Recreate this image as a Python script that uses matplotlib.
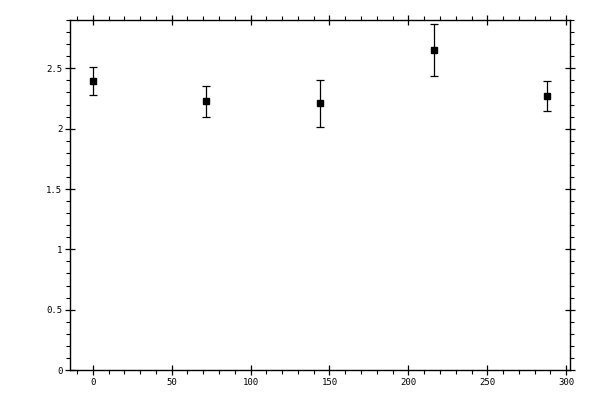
import matplotlib
matplotlib.use("Agg")
import matplotlib.pyplot as plt
from matplotlib.ticker import MultipleLocator, FuncFormatter

x_vals = [0, 72, 144, 216, 288]
y_vals = [2.394, 2.228, 2.211, 2.651, 2.269]
y_err = [0.114, 0.129, 0.195, 0.213, 0.124]

x_ticks = [0, 50, 100, 150, 200, 250, 300]
y_ticks = [0, 0.5, 1, 1.5, 2, 2.5]

fig = plt.figure(figsize=(6, 4), dpi=100)
ax = fig.add_axes([70/600, 30/400, 500/600, 350.5/400])

ax.errorbar(x_vals, y_vals, yerr=y_err, fmt='s', color='black', ms=4.8,
            capsize=3.2, elinewidth=0.9, capthick=0.9, mec='black', mfc='black')

ax.set_xlim(-14.4, 302.4)
ax.set_ylim(0, 2.905)
ax.set_xticks(x_ticks)
ax.set_yticks(y_ticks)
ax.xaxis.set_minor_locator(MultipleLocator(10))
ax.yaxis.set_minor_locator(MultipleLocator(0.1))

fmt = FuncFormatter(lambda v, p: ('%g' % v))
ax.xaxis.set_major_formatter(fmt)
ax.yaxis.set_major_formatter(fmt)

for s in ax.spines.values():
    s.set_linewidth(1.0)

ax.tick_params(which='major', direction='inout', length=7, width=0.9,
               top=True, right=True, labelsize=6.5, pad=2)
ax.tick_params(which='minor', direction='out', length=3, width=0.8,
               top=True, right=True)
ax.tick_params(axis='y', which='major', pad=2)

for lab in ax.get_xticklabels() + ax.get_yticklabels():
    lab.set_family('DejaVu Sans Mono')

fig.savefig('out.png', dpi=100)
